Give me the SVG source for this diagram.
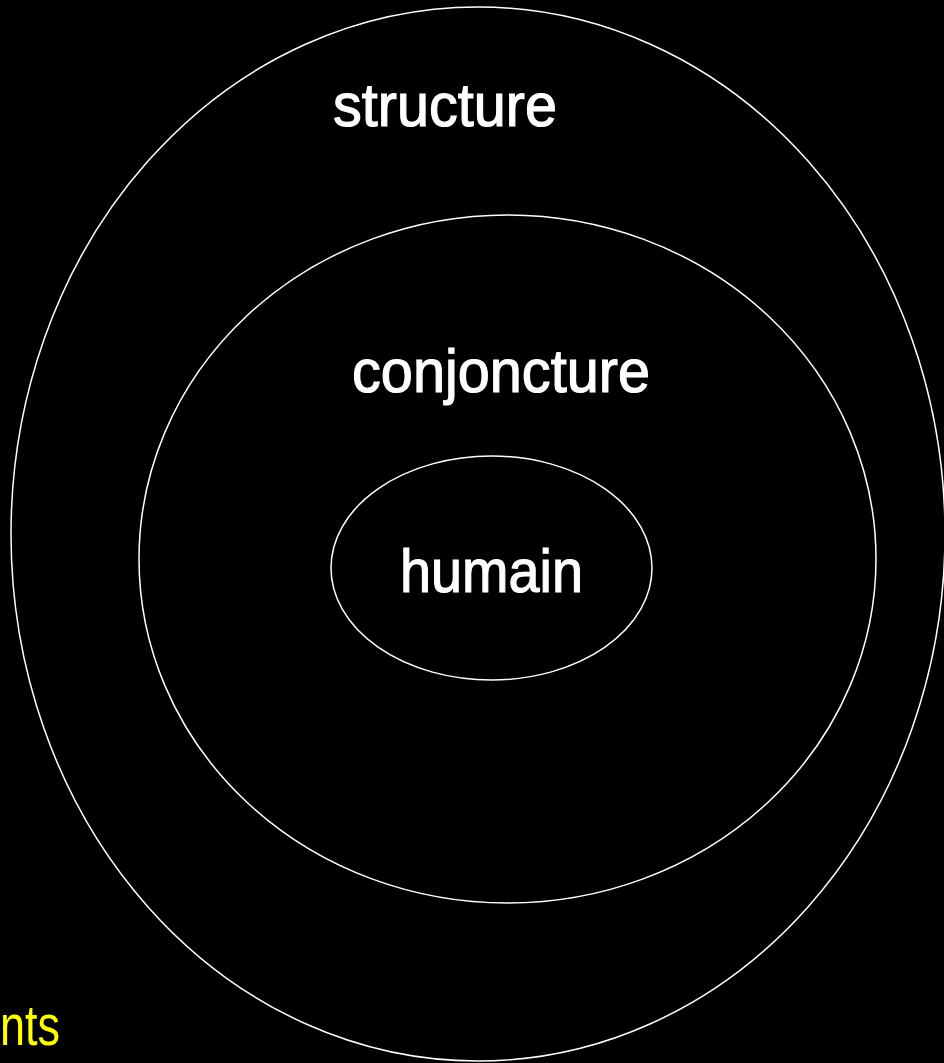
<svg xmlns="http://www.w3.org/2000/svg" width="944" height="1063" viewBox="0 0 944 1063">
<style>
.ring{fill:none;stroke:#fff;stroke-width:1.5}
.lbl{font-family:"Liberation Sans Narrow","Liberation Sans",Arial,sans-serif;font-size:62px;fill:#fff;stroke:#fff;stroke-width:1.2}
.note{font-family:"Liberation Sans Narrow","Liberation Sans",Arial,sans-serif;font-size:58px;fill:#ffff00}
</style>
<rect x="0" y="0" width="944" height="1063" fill="#000"/>
<g id="structure">
<ellipse class="ring" cx="478" cy="534" rx="467" ry="527"/>
<text class="lbl" x="333" y="126" textLength="224" lengthAdjust="spacingAndGlyphs">structure</text>
</g>
<g id="conjoncture">
<ellipse class="ring" cx="507.5" cy="559" rx="368.5" ry="344"/>
<text class="lbl" x="352" y="392" textLength="298" lengthAdjust="spacingAndGlyphs">conjoncture</text>
</g>
<g id="humain">
<ellipse class="ring" cx="491.5" cy="568" rx="160.5" ry="112"/>
<text class="lbl" x="400" y="592" textLength="183" lengthAdjust="spacingAndGlyphs">humain</text>
</g>
<g id="connectors"></g>
<text class="note" x="0" y="1045" textLength="60" lengthAdjust="spacingAndGlyphs">nts</text>
</svg>
